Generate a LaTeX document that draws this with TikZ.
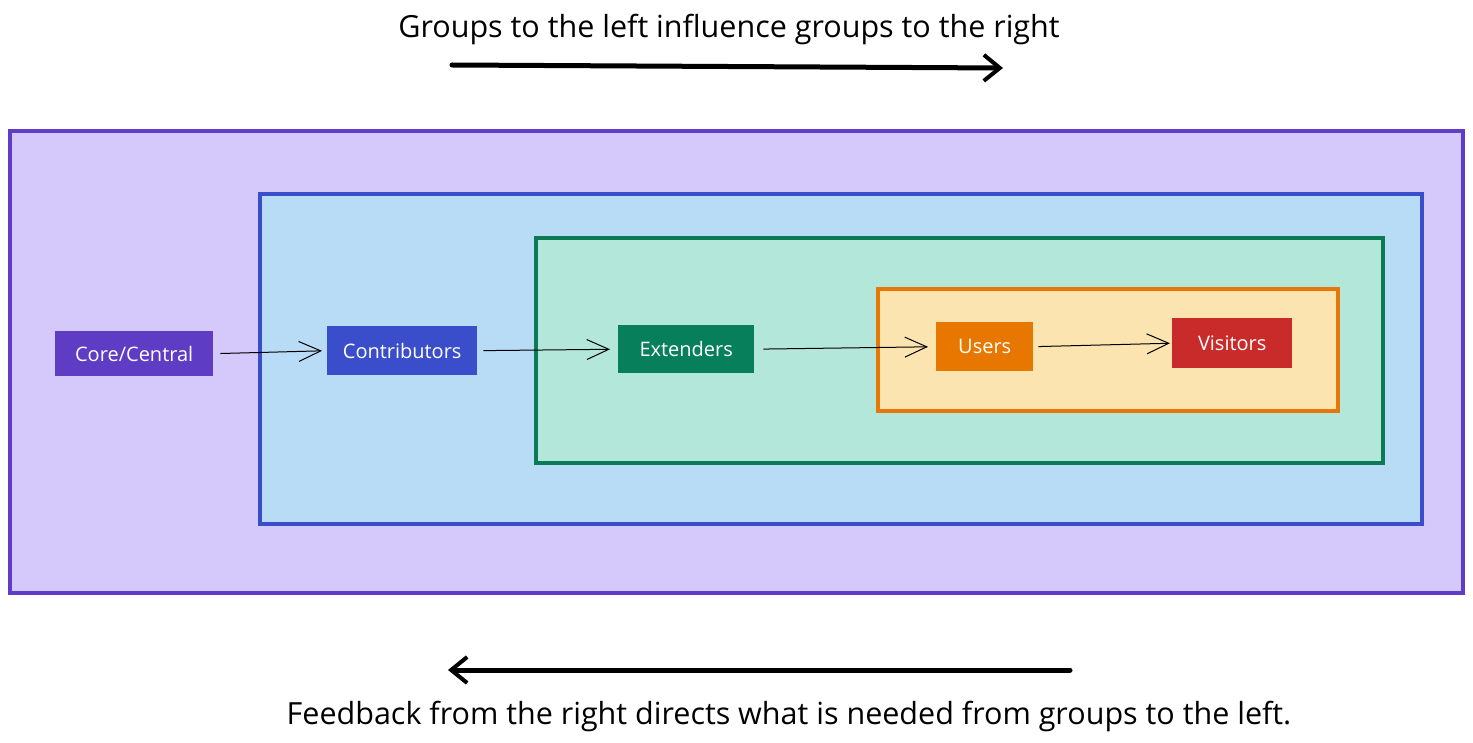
\documentclass[tikz,border=0pt]{standalone}
\usepackage{fontspec}
\setmainfont{Open Sans}
\usetikzlibrary{arrows.meta}
\definecolor{vioF}{HTML}{D5C8FA}
\definecolor{vioS}{HTML}{5F3DC8}
\definecolor{bluF}{HTML}{B9DCF6}
\definecolor{bluS}{HTML}{3A4ECB}
\definecolor{grnF}{HTML}{B3E7D9}
\definecolor{grnS}{HTML}{0C7A55}
\definecolor{ornF}{HTML}{FCE4B0}
\definecolor{ornS}{HTML}{E8770A}
\definecolor{coreC}{HTML}{5F3CC4}
\definecolor{contC}{HTML}{3A4ECB}
\definecolor{extC}{HTML}{087F5B}
\definecolor{userC}{HTML}{E87700}
\definecolor{visC}{HTML}{C92A2A}
\tikzset{
  grp/.style={line width=3.2pt},
  item/.style={draw=none, text=white, font=\fontsize{20}{24}\selectfont, inner sep=0pt, anchor=north west},
  flow/.style={line width=1pt, -{Straight Barb[length=22pt,width=20pt,line width=1pt]}},
  big/.style={line width=5pt, line cap=round, -{Straight Barb[length=16pt,width=26pt,line width=4pt]}},
  captxt/.style={font=\fontsize{30.5}{36}\selectfont}
}
\begin{document}
\begin{tikzpicture}[x=1pt,y=-1pt]
\useasboundingbox (0,0) rectangle (1473,743);
\fill[white] (0,0) rectangle (1473,743);
% groups
\draw[grp, draw=vioS, fill=vioF] (10,131) rectangle (1463,593);
\draw[grp, draw=bluS, fill=bluF] (260,194) rectangle (1422,524);
\draw[grp, draw=grnS, fill=grnF] (536,238) rectangle (1383,463);
\draw[grp, draw=ornS, fill=ornF] (878,289) rectangle (1338,411);
% items
\node[item, fill=coreC, minimum width=158pt, minimum height=45pt] (core) at (55,331) {Core/Central};
\node[item, fill=contC, minimum width=150pt, minimum height=49pt] (cont) at (327,326) {Contributors};
\node[item, fill=extC, minimum width=136pt, minimum height=48pt] (ext) at (618,325) {Extenders};
\node[item, fill=userC, minimum width=97pt, minimum height=49pt] (user) at (936,322) {Users};
\node[item, fill=visC, minimum width=120pt, minimum height=50pt] (vis) at (1172,318) {Visitors};
% flows
\draw[flow, shorten <=7pt, shorten >=5pt] (core.east) -- (cont.west);
\draw[flow, shorten <=6pt, shorten >=8pt] (cont.east) -- (ext.west);
\draw[flow, shorten <=9pt, shorten >=8pt] (ext.east) -- (user.west);
\draw[flow, shorten <=5pt, shorten >=2pt] (user.east) -- (vis.west);
% captions
\node[captxt] (top) at (729,29) {Groups to the left influence groups to the right};
\coordinate (ta) at (452,65);
\coordinate (tb) at (1003,68);
\draw[big] (ta) -- (tb);
\coordinate (ba) at (1070,670);
\coordinate (bb) at (448,670);
\draw[big] (ba) -- (bb);
\node[captxt] (bot) at (789,716) {Feedback from the right directs what is needed from groups to the left.};
\end{tikzpicture}
\end{document}
